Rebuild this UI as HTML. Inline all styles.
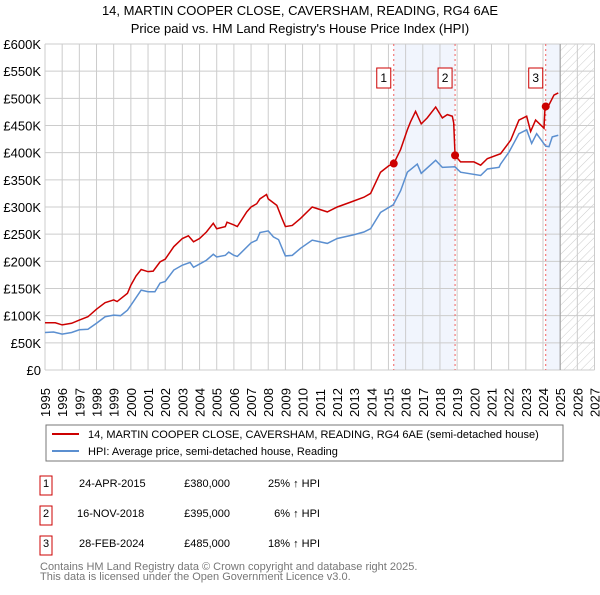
<!DOCTYPE html>
<html><head><meta charset="utf-8"><style>
body{margin:0;background:#fff;font-family:"Liberation Sans",sans-serif;}
svg text{font-family:"Liberation Sans","DejaVu Sans",sans-serif;}
</style></head><body>
<svg id="c" width="600" height="590" xmlns="http://www.w3.org/2000/svg">
<defs><pattern id="hatch" width="6" height="6" patternUnits="userSpaceOnUse" patternTransform="rotate(45)"><line x1="0" y1="0" x2="0" y2="6" stroke="#ccc" stroke-width="1"/></pattern></defs>
<text x="300" y="15" text-anchor="middle" font-size="13">14, MARTIN COOPER CLOSE, CAVERSHAM, READING, RG4 6AE</text>
<text x="300" y="33" text-anchor="middle" font-size="13">Price paid vs. HM Land Registry's House Price Index (HPI)</text>
<g id="plot"></g>
<rect x="46" y="425" width="517" height="36" fill="#fff" stroke="#777"/>
<line x1="52" y1="434" x2="79" y2="434" stroke="#cc0000" stroke-width="2"/>
<text x="88" y="438" font-size="11">14, MARTIN COOPER CLOSE, CAVERSHAM, READING, RG4 6AE (semi-detached house)</text>
<line x1="52" y1="451" x2="79" y2="451" stroke="#5b8fd0" stroke-width="2"/>
<text x="88" y="455" font-size="11">HPI: Average price, semi-detached house, Reading</text>
<g font-size="11">
<rect x="40" y="476" width="12" height="19" fill="none" stroke="#cc0000"/><text x="46" y="487" text-anchor="middle">1</text>
<text x="79" y="487">24-APR-2015</text><text x="230" y="487" text-anchor="end">£380,000</text><text x="320" y="487" text-anchor="end">25% ↑ HPI</text>
<rect x="40" y="506" width="12" height="19" fill="none" stroke="#cc0000"/><text x="46" y="517" text-anchor="middle">2</text>
<text x="77" y="517">16-NOV-2018</text><text x="230" y="517" text-anchor="end">£395,000</text><text x="320" y="517" text-anchor="end">6% ↑ HPI</text>
<rect x="40" y="536" width="12" height="19" fill="none" stroke="#cc0000"/><text x="46" y="547" text-anchor="middle">3</text>
<text x="79" y="547">28-FEB-2024</text><text x="230" y="547" text-anchor="end">£485,000</text><text x="320" y="547" text-anchor="end">18% ↑ HPI</text>
</g>
<text x="40" y="570" font-size="11" fill="#777">Contains HM Land Registry data © Crown copyright and database right 2025.</text>
<text x="40" y="580" font-size="11" fill="#777">This data is licensed under the Open Government Licence v3.0.</text>
</svg>
<script>
const yTicks=[0,50,100,150,200,250,300,350,400,450,500,550,600];
const yTickLabels=["£0","£50K","£100K","£150K","£200K","£250K","£300K","£350K","£400K","£450K","£500K","£550K","£600K"];
const xYears=[1995,1996,1997,1998,1999,2000,2001,2002,2003,2004,2005,2006,2007,2008,2009,2010,2011,2012,2013,2014,2015,2016,2017,2018,2019,2020,2021,2022,2023,2024,2025,2026,2027];
const hpiYears=[1995,1995.5,1996,1996.55,1997,1997.5,1998,1998.5,1999,1999.4,1999.8,2000,2000.6,2001,2001.4,2001.7,2002,2002.5,2003,2003.45,2003.65,2004,2004.4,2004.8,2005,2005.5,2005.7,2006,2006.2,2007,2007.33,2007.52,2008,2008.3,2008.6,2008.9,2009,2009.4,2009.88,2010.56,2011.44,2012.02,2012.99,2013.57,2013.96,2014.54,2015.28,2015.71,2016.1,2016.68,2016.91,2017.75,2018.14,2018.87,2019.2,2020.37,2020.76,2021.44,2021.53,2022.02,2022.6,2023.05,2023.34,2023.63,2024.16,2024.35,2024.54,2024.89];
const hpiValues=[69,70,66,69,74,75,86,98,101,100,110,119,147,144,144,160,163,184,193,198,189,195,202,213,208,211,217,211,209,234,239,253,256,245,240,217,210,211,224,239,233,242,249,254,260,290,304,330,364,379,362,386,373,374,364,358,370,373,379,401,435,442,417,435,412,411,429,432];
const priceYears=[1995,1995.6,1996,1996.55,1997,1997.5,1998,1998.5,1999,1999.2,1999.8,2000,2000.3,2000.6,2001,2001.3,2001.7,2002,2002.5,2003,2003.35,2003.65,2004,2004.4,2004.8,2005,2005.5,2005.6,2006,2006.2,2006.75,2007,2007.33,2007.52,2007.9,2008,2008.5,2008.8,2009,2009.4,2009.88,2010.56,2011.44,2012.02,2012.8,2013.57,2013.96,2014.54,2015.03,2015.31,2015.71,2016.1,2016.29,2016.58,2016.91,2017.26,2017.75,2018.14,2018.43,2018.72,2018.80,2018.88,2019.2,2019.98,2020.37,2020.76,2021.53,2022.12,2022.6,2023.05,2023.28,2023.57,2024.06,2024.12,2024.16,2024.35,2024.64,2024.89];
const priceValues=[87,87,83,86,92,98,112,124,129,126,141,156,173,185,181,182,199,204,227,242,247,236,242,254,270,260,264,272,267,264,291,300,306,315,323,315,303,279,264,266,279,300,291,300,309,318,325,364,376,380,406,442,457,476,453,464,484,464,470,467,455,395,383,383,377,389,398,423,460,467,439,460,445,485,485,488,506,510];
const saleYears=[2015.31,2018.88,2024.16];
const saleValues=[380,395,485];
const saleLabels=["1","2","3"];

const X0=45,X1=594.5,Y0=370,Y1=44;
const xs=y=>X0+(y-1995)/(2027-1995)*(X1-X0);
const ys=v=>Y0-v/600*(Y0-Y1);
const NS="http://www.w3.org/2000/svg";
const g=document.getElementById('plot');
function mk(t,a){const e=document.createElementNS(NS,t);for(const k in a)e.setAttribute(k,a[k]);g.appendChild(e);return e;}
let e;
e=mk('rect',{x:xs(saleYears[0]),y:Y1,width:xs(saleYears[1])-xs(saleYears[0]),height:Y0-Y1,fill:'#eef3fc',opacity:0.8});


e=mk('rect',{x:xs(saleYears[2]),y:Y1,width:xs(2025)-xs(saleYears[2]),height:Y0-Y1,fill:'#eef3fc',opacity:0.8});


e=mk('rect',{x:xs(2025),y:Y1,width:X1-xs(2025),height:Y0-Y1,fill:'url(#hatch)'});


xYears.forEach(y=>{
  e=mk('line',{x1:xs(y),x2:xs(y),y1:Y1,y2:Y0,stroke:'#ccc','stroke-width':1});
  
  
  e=mk('text',{x:0,y:0,'font-size':13,transform:`translate(${xs(y)+5},${Y0+47}) rotate(-90)`});
  e.textContent=y;
  
  
});
yTicks.forEach((v,i)=>{
  e=mk('line',{x1:X0,x2:X1,y1:ys(v),y2:ys(v),stroke:'#ccc','stroke-width':1});
  
  
  e=mk('text',{x:41,y:ys(v)+5,'font-size':13,'text-anchor':'end'});
  e.textContent=yTickLabels[i];
  
  
});
e=mk('line',{x1:xs(2025),x2:xs(2025),y1:Y1,y2:Y0,stroke:'#999','stroke-width':1});


saleYears.forEach((y,i)=>{
  e=mk('line',{x1:xs(y),x2:xs(y),y1:Y1,y2:Y0,stroke:'#f06060','stroke-width':1,'stroke-dasharray':'2,3'});
  
  
  e=mk('rect',{x:xs(y)-17,y:68,width:14,height:20,fill:'#fff',stroke:'#cc0000'});
  
  
  e=mk('text',{x:xs(y)-10,y:82,'font-size':12,'text-anchor':'middle'});
  e.textContent=saleLabels[i];
  
  
});
e=mk('polyline',{points:hpiYears.map((y,i)=>xs(y)+','+ys(hpiValues[i])).join(' '),fill:'none',stroke:'#5b8fd0','stroke-width':1.5});


e=mk('polyline',{points:priceYears.map((y,i)=>xs(y)+','+ys(priceValues[i])).join(' '),fill:'none',stroke:'#cc0000','stroke-width':1.5});


saleYears.forEach((y,i)=>{
  e=mk('circle',{cx:xs(y),cy:ys(saleValues[i]),r:4,fill:'#cc0000'});
  
  
});
</script>
</body></html>
